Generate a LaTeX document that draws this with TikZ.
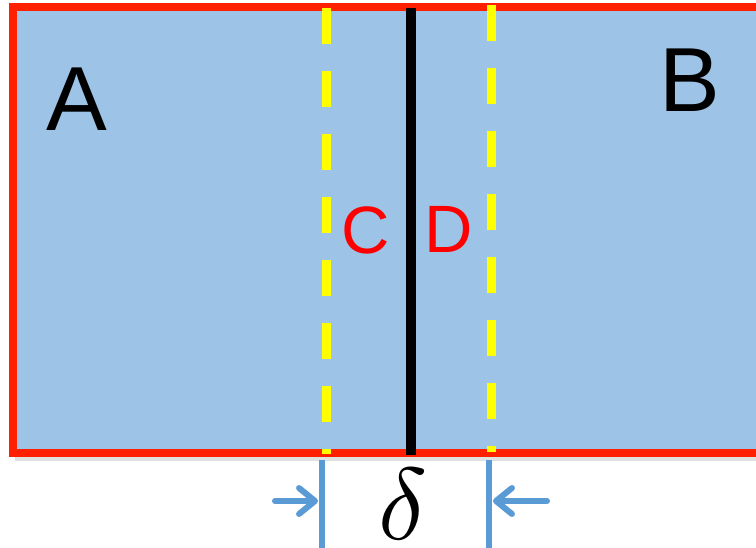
\documentclass[tikz,border=0pt]{standalone}
\usepackage{fontspec}
\setmainfont{Liberation Sans}
\usetikzlibrary{arrows.meta}
\definecolor{panelblue}{RGB}{157,195,230}
\definecolor{borderred}{RGB}{255,32,0}
\definecolor{dimblue}{RGB}{91,155,213}
\definecolor{dashyellow}{RGB}{255,255,0}
\tikzset{
  panel/.style={fill=panelblue, draw=borderred, line width=8pt},
  interface/.style={draw=black, line width=10pt},
  layerline/.style={draw=dashyellow, line width=9pt, dash pattern=on 36pt off 27pt},
  dimline/.style={draw=dimblue, line width=5.5pt},
  dimarrow/.style={draw=dimblue, line width=6pt, line cap=round,
    -{Straight Barb[length=16pt,width=26pt,round]}},
  biglabel/.style={inner sep=0pt, font=\fontsize{91}{91}\selectfont},
  redlabel/.style={inner sep=0pt, text=red, font=\fontsize{67}{67}\selectfont},
  mathlabel/.style={inner sep=0pt, scale=10.2}
}
\begin{document}
\begin{tikzpicture}[x=1pt,y=-1pt]
\useasboundingbox (0,0) rectangle (756,548);
\clip (0,0) rectangle (756,548);
% shadow
\fill[black!12] (15,11) rectangle (764,461);
\draw[panel] (13,7.5) rectangle (760,453);
% interface and layer boundaries
\coordinate (itop) at (411,8);
\coordinate (ibot) at (411,455);
\draw[interface] (itop) -- (ibot);
\coordinate (ltop) at (326,8);
\coordinate (lbot) at (326,454);
\draw[layerline] (ltop) -- (lbot);
\coordinate (rtop) at (491,5);
\coordinate (rbot) at (491,452);
\draw[layerline] (rtop) -- (rbot);
% labels
\node[biglabel] (A) at (76.5,99.5) {A};
\node[biglabel] (B) at (690,80) {B};
\node[redlabel] (C) at (365.5,230) {C};
\node[redlabel] (D) at (448.5,229) {D};
% dimension
\coordinate (dl1) at (322,460);
\coordinate (dl2) at (322,548);
\coordinate (dr1) at (489,460);
\coordinate (dr2) at (489,548);
\draw[dimline] (dl1) -- (dl2);
\draw[dimline] (dr1) -- (dr2);
\coordinate (al0) at (275,501);
\coordinate (al1) at (318,501);
\coordinate (ar0) at (547,501);
\coordinate (ar1) at (493,501);
\draw[dimarrow] (al0) -- (al1);
\draw[dimarrow] (ar0) -- (ar1);
\node[mathlabel] (delta) at (403,504.5) {$\delta$};
\end{tikzpicture}
\end{document}
